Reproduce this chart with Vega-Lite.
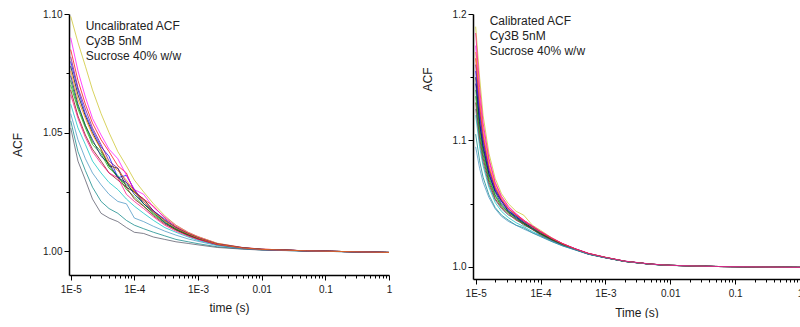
{
  "$schema": "https://vega.github.io/schema/vega-lite/v6.json",
  "background": "white",
  "padding": {"left": 11, "top": 9, "right": 0, "bottom": 0},
  "bounds": "flush",
  "spacing": 84,
  "config": {
    "view": {"stroke": null},
    "font": "Liberation Sans",
    "axis": {"grid": false, "labelFont": "Liberation Sans", "titleFont": "Liberation Sans", "labelColor": "#1a1a1a", "titleColor": "#1a1a1a", "domainColor": "#000000", "tickColor": "#000000", "titleFontWeight": "normal", "labelFlush": false, "labelOverlap": false, "domain": true, "ticks": true}
  },
  "datasets": {
    "L": [
      {"s":"a","t":1e-5,"v":1.078},{"s":"a","t":1.3e-5,"v":1.066},{"s":"a","t":1.7e-5,"v":1.057},{"s":"a","t":2.2e-5,"v":1.050},{"s":"a","t":3e-5,"v":1.043},{"s":"a","t":4e-5,"v":1.036},{"s":"a","t":5.5e-5,"v":1.035},{"s":"a","t":7.5e-5,"v":1.027},{"s":"a","t":1e-4,"v":1.025},{"s":"a","t":1.4e-4,"v":1.022},{"s":"a","t":2e-4,"v":1.017},{"s":"a","t":3e-4,"v":1.013},{"s":"a","t":4.5e-4,"v":1.010},{"s":"a","t":7e-4,"v":1.0075},{"s":"a","t":1e-3,"v":1.0058},{"s":"a","t":2e-3,"v":1.0031},{"s":"a","t":5e-3,"v":1.0015},{"s":"a","t":0.01,"v":1.0008},{"s":"a","t":0.05,"v":1.0002},{"s":"a","t":1,"v":0.9995},
      {"s":"b","t":1e-5,"v":1.085},{"s":"b","t":1.3e-5,"v":1.072},{"s":"b","t":1.7e-5,"v":1.062},{"s":"b","t":2.2e-5,"v":1.054},{"s":"b","t":3e-5,"v":1.047},{"s":"b","t":4e-5,"v":1.042},{"s":"b","t":5.5e-5,"v":1.036},{"s":"b","t":7.5e-5,"v":1.033},{"s":"b","t":1e-4,"v":1.025},{"s":"b","t":1.4e-4,"v":1.022},{"s":"b","t":2e-4,"v":1.019},{"s":"b","t":3e-4,"v":1.014},{"s":"b","t":4.5e-4,"v":1.0105},{"s":"b","t":7e-4,"v":1.0078},{"s":"b","t":1e-3,"v":1.006},{"s":"b","t":2e-3,"v":1.0033},{"s":"b","t":5e-3,"v":1.0015},{"s":"b","t":0.01,"v":1.0009},{"s":"b","t":0.05,"v":1.0002},{"s":"b","t":1,"v":0.9995},
      {"s":"c","t":1e-5,"v":1.070},{"s":"c","t":1.3e-5,"v":1.060},{"s":"c","t":1.7e-5,"v":1.052},{"s":"c","t":2.2e-5,"v":1.045},{"s":"c","t":3e-5,"v":1.041},{"s":"c","t":4e-5,"v":1.035},{"s":"c","t":5.5e-5,"v":1.032},{"s":"c","t":7.5e-5,"v":1.026},{"s":"c","t":1e-4,"v":1.023},{"s":"c","t":1.4e-4,"v":1.019},{"s":"c","t":2e-4,"v":1.0155},{"s":"c","t":3e-4,"v":1.012},{"s":"c","t":4.5e-4,"v":1.009},{"s":"c","t":7e-4,"v":1.0068},{"s":"c","t":1e-3,"v":1.0052},{"s":"c","t":2e-3,"v":1.0029},{"s":"c","t":5e-3,"v":1.0013},{"s":"c","t":0.01,"v":1.0007},{"s":"c","t":0.05,"v":1.0002},{"s":"c","t":1,"v":0.9995},
      {"s":"d","t":1e-5,"v":1.080},{"s":"d","t":1.3e-5,"v":1.068},{"s":"d","t":1.7e-5,"v":1.058},{"s":"d","t":2.2e-5,"v":1.051},{"s":"d","t":3e-5,"v":1.044},{"s":"d","t":4e-5,"v":1.040},{"s":"d","t":5.5e-5,"v":1.031},{"s":"d","t":7.5e-5,"v":1.032},{"s":"d","t":1e-4,"v":1.026},{"s":"d","t":1.4e-4,"v":1.020},{"s":"d","t":2e-4,"v":1.017},{"s":"d","t":3e-4,"v":1.0135},{"s":"d","t":4.5e-4,"v":1.010},{"s":"d","t":7e-4,"v":1.0072},{"s":"d","t":1e-3,"v":1.0056},{"s":"d","t":2e-3,"v":1.003},{"s":"d","t":5e-3,"v":1.0014},{"s":"d","t":0.01,"v":1.0008},{"s":"d","t":0.05,"v":1.0002},{"s":"d","t":1,"v":0.9995},
      {"s":"e","t":1e-5,"v":1.062},{"s":"e","t":1.3e-5,"v":1.052},{"s":"e","t":1.7e-5,"v":1.045},{"s":"e","t":2.2e-5,"v":1.038},{"s":"e","t":3e-5,"v":1.033},{"s":"e","t":4e-5,"v":1.029},{"s":"e","t":5.5e-5,"v":1.026},{"s":"e","t":7.5e-5,"v":1.022},{"s":"e","t":1e-4,"v":1.019},{"s":"e","t":1.4e-4,"v":1.016},{"s":"e","t":2e-4,"v":1.013},{"s":"e","t":3e-4,"v":1.010},{"s":"e","t":4.5e-4,"v":1.008},{"s":"e","t":7e-4,"v":1.006},{"s":"e","t":1e-3,"v":1.0046},{"s":"e","t":2e-3,"v":1.0026},{"s":"e","t":5e-3,"v":1.0012},{"s":"e","t":0.01,"v":1.0007},{"s":"e","t":0.05,"v":1.0002},{"s":"e","t":1,"v":0.9995},
      {"s":"f","t":1e-5,"v":1.090},{"s":"f","t":1.3e-5,"v":1.076},{"s":"f","t":1.7e-5,"v":1.065},{"s":"f","t":2.2e-5,"v":1.056},{"s":"f","t":3e-5,"v":1.049},{"s":"f","t":4e-5,"v":1.043},{"s":"f","t":5.5e-5,"v":1.039},{"s":"f","t":7.5e-5,"v":1.032},{"s":"f","t":1e-4,"v":1.026},{"s":"f","t":1.4e-4,"v":1.024},{"s":"f","t":2e-4,"v":1.0185},{"s":"f","t":3e-4,"v":1.0145},{"s":"f","t":4.5e-4,"v":1.011},{"s":"f","t":7e-4,"v":1.008},{"s":"f","t":1e-3,"v":1.0062},{"s":"f","t":2e-3,"v":1.0033},{"s":"f","t":5e-3,"v":1.0016},{"s":"f","t":0.01,"v":1.0009},{"s":"f","t":0.05,"v":1.0002},{"s":"f","t":1,"v":0.9995},
      {"s":"g","t":1e-5,"v":1.099},{"s":"g","t":1.3e-5,"v":1.088},{"s":"g","t":1.7e-5,"v":1.078},{"s":"g","t":2.2e-5,"v":1.068},{"s":"g","t":3e-5,"v":1.058},{"s":"g","t":4e-5,"v":1.050},{"s":"g","t":5.5e-5,"v":1.042},{"s":"g","t":7.5e-5,"v":1.036},{"s":"g","t":1e-4,"v":1.030},{"s":"g","t":1.4e-4,"v":1.025},{"s":"g","t":2e-4,"v":1.020},{"s":"g","t":3e-4,"v":1.015},{"s":"g","t":4.5e-4,"v":1.011},{"s":"g","t":7e-4,"v":1.008},{"s":"g","t":1e-3,"v":1.0062},{"s":"g","t":2e-3,"v":1.0034},{"s":"g","t":5e-3,"v":1.0016},{"s":"g","t":0.01,"v":1.0009},{"s":"g","t":0.05,"v":1.0002},{"s":"g","t":1,"v":0.9995},
      {"s":"h","t":1e-5,"v":1.074},{"s":"h","t":1.3e-5,"v":1.062},{"s":"h","t":1.7e-5,"v":1.053},{"s":"h","t":2.2e-5,"v":1.047},{"s":"h","t":3e-5,"v":1.040},{"s":"h","t":4e-5,"v":1.037},{"s":"h","t":5.5e-5,"v":1.031},{"s":"h","t":7.5e-5,"v":1.029},{"s":"h","t":1e-4,"v":1.024},{"s":"h","t":1.4e-4,"v":1.020},{"s":"h","t":2e-4,"v":1.0165},{"s":"h","t":3e-4,"v":1.012},{"s":"h","t":4.5e-4,"v":1.0095},{"s":"h","t":7e-4,"v":1.007},{"s":"h","t":1e-3,"v":1.0054},{"s":"h","t":2e-3,"v":1.003},{"s":"h","t":5e-3,"v":1.0014},{"s":"h","t":0.01,"v":1.0008},{"s":"h","t":0.05,"v":1.0002},{"s":"h","t":1,"v":0.9995},
      {"s":"i","t":1e-5,"v":1.068},{"s":"i","t":1.3e-5,"v":1.057},{"s":"i","t":1.7e-5,"v":1.049},{"s":"i","t":2.2e-5,"v":1.043},{"s":"i","t":3e-5,"v":1.038},{"s":"i","t":4e-5,"v":1.033},{"s":"i","t":5.5e-5,"v":1.030},{"s":"i","t":7.5e-5,"v":1.027},{"s":"i","t":1e-4,"v":1.022},{"s":"i","t":1.4e-4,"v":1.019},{"s":"i","t":2e-4,"v":1.015},{"s":"i","t":3e-4,"v":1.0115},{"s":"i","t":4.5e-4,"v":1.009},{"s":"i","t":7e-4,"v":1.0066},{"s":"i","t":1e-3,"v":1.0051},{"s":"i","t":2e-3,"v":1.0028},{"s":"i","t":5e-3,"v":1.0013},{"s":"i","t":0.01,"v":1.0007},{"s":"i","t":0.05,"v":1.0002},{"s":"i","t":1,"v":0.9995},
      {"s":"j","t":1e-5,"v":1.072},{"s":"j","t":1.3e-5,"v":1.061},{"s":"j","t":1.7e-5,"v":1.053},{"s":"j","t":2.2e-5,"v":1.046},{"s":"j","t":3e-5,"v":1.042},{"s":"j","t":4e-5,"v":1.036},{"s":"j","t":5.5e-5,"v":1.031},{"s":"j","t":7.5e-5,"v":1.028},{"s":"j","t":1e-4,"v":1.025},{"s":"j","t":1.4e-4,"v":1.020},{"s":"j","t":2e-4,"v":1.016},{"s":"j","t":3e-4,"v":1.0125},{"s":"j","t":4.5e-4,"v":1.0093},{"s":"j","t":7e-4,"v":1.007},{"s":"j","t":1e-3,"v":1.0053},{"s":"j","t":2e-3,"v":1.0029},{"s":"j","t":5e-3,"v":1.0014},{"s":"j","t":0.01,"v":1.0008},{"s":"j","t":0.05,"v":1.0002},{"s":"j","t":1,"v":0.9995},
      {"s":"k","t":1e-5,"v":1.055},{"s":"k","t":1.3e-5,"v":1.042},{"s":"k","t":1.7e-5,"v":1.034},{"s":"k","t":2.2e-5,"v":1.027},{"s":"k","t":3e-5,"v":1.021},{"s":"k","t":4e-5,"v":1.018},{"s":"k","t":5.5e-5,"v":1.016},{"s":"k","t":7.5e-5,"v":1.013},{"s":"k","t":1e-4,"v":1.011},{"s":"k","t":1.4e-4,"v":1.0095},{"s":"k","t":2e-4,"v":1.008},{"s":"k","t":3e-4,"v":1.0065},{"s":"k","t":4.5e-4,"v":1.005},{"s":"k","t":7e-4,"v":1.004},{"s":"k","t":1e-3,"v":1.0032},{"s":"k","t":2e-3,"v":1.0019},{"s":"k","t":5e-3,"v":1.001},{"s":"k","t":0.01,"v":1.0006},{"s":"k","t":0.05,"v":1.0001},{"s":"k","t":1,"v":0.9995},
      {"s":"l","t":1e-5,"v":1.052},{"s":"l","t":1.3e-5,"v":1.038},{"s":"l","t":1.7e-5,"v":1.030},{"s":"l","t":2.2e-5,"v":1.022},{"s":"l","t":3e-5,"v":1.016},{"s":"l","t":4e-5,"v":1.014},{"s":"l","t":5.5e-5,"v":1.0125},{"s":"l","t":7.5e-5,"v":1.010},{"s":"l","t":1e-4,"v":1.008},{"s":"l","t":1.4e-4,"v":1.0075},{"s":"l","t":2e-4,"v":1.006},{"s":"l","t":3e-4,"v":1.005},{"s":"l","t":4.5e-4,"v":1.004},{"s":"l","t":7e-4,"v":1.0033},{"s":"l","t":1e-3,"v":1.0027},{"s":"l","t":2e-3,"v":1.0016},{"s":"l","t":5e-3,"v":1.0009},{"s":"l","t":0.01,"v":1.0005},{"s":"l","t":0.05,"v":1.0001},{"s":"l","t":1,"v":0.9995},
      {"s":"m","t":1e-5,"v":1.066},{"s":"m","t":1.3e-5,"v":1.056},{"s":"m","t":1.7e-5,"v":1.048},{"s":"m","t":2.2e-5,"v":1.042},{"s":"m","t":3e-5,"v":1.037},{"s":"m","t":4e-5,"v":1.033},{"s":"m","t":5.5e-5,"v":1.031},{"s":"m","t":7.5e-5,"v":1.024},{"s":"m","t":1e-4,"v":1.021},{"s":"m","t":1.4e-4,"v":1.018},{"s":"m","t":2e-4,"v":1.0145},{"s":"m","t":3e-4,"v":1.011},{"s":"m","t":4.5e-4,"v":1.0085},{"s":"m","t":7e-4,"v":1.0064},{"s":"m","t":1e-3,"v":1.005},{"s":"m","t":2e-3,"v":1.0028},{"s":"m","t":5e-3,"v":1.0013},{"s":"m","t":0.01,"v":1.0007},{"s":"m","t":0.05,"v":1.0002},{"s":"m","t":1,"v":0.9995},
      {"s":"n","t":1e-5,"v":1.058},{"s":"n","t":1.3e-5,"v":1.047},{"s":"n","t":1.7e-5,"v":1.039},{"s":"n","t":2.2e-5,"v":1.033},{"s":"n","t":3e-5,"v":1.028},{"s":"n","t":4e-5,"v":1.024},{"s":"n","t":5.5e-5,"v":1.021},{"s":"n","t":7.5e-5,"v":1.020},{"s":"n","t":1e-4,"v":1.014},{"s":"n","t":1.4e-4,"v":1.0125},{"s":"n","t":2e-4,"v":1.0105},{"s":"n","t":3e-4,"v":1.0085},{"s":"n","t":4.5e-4,"v":1.0068},{"s":"n","t":7e-4,"v":1.0052},{"s":"n","t":1e-3,"v":1.0042},{"s":"n","t":2e-3,"v":1.0024},{"s":"n","t":5e-3,"v":1.0011},{"s":"n","t":0.01,"v":1.0006},{"s":"n","t":0.05,"v":1.0001},{"s":"n","t":1,"v":0.9995},
      {"s":"o","t":1e-5,"v":1.082},{"s":"o","t":1.3e-5,"v":1.069},{"s":"o","t":1.7e-5,"v":1.060},{"s":"o","t":2.2e-5,"v":1.052},{"s":"o","t":3e-5,"v":1.045},{"s":"o","t":4e-5,"v":1.038},{"s":"o","t":5.5e-5,"v":1.035},{"s":"o","t":7.5e-5,"v":1.029},{"s":"o","t":1e-4,"v":1.026},{"s":"o","t":1.4e-4,"v":1.021},{"s":"o","t":2e-4,"v":1.017},{"s":"o","t":3e-4,"v":1.013},{"s":"o","t":4.5e-4,"v":1.010},{"s":"o","t":7e-4,"v":1.0074},{"s":"o","t":1e-3,"v":1.0057},{"s":"o","t":2e-3,"v":1.0031},{"s":"o","t":5e-3,"v":1.0015},{"s":"o","t":0.01,"v":1.0008},{"s":"o","t":0.05,"v":1.0002},{"s":"o","t":1,"v":0.9995},
      {"s":"p","t":1e-5,"v":1.076},{"s":"p","t":1.3e-5,"v":1.064},{"s":"p","t":1.7e-5,"v":1.056},{"s":"p","t":2.2e-5,"v":1.049},{"s":"p","t":3e-5,"v":1.043},{"s":"p","t":4e-5,"v":1.037},{"s":"p","t":5.5e-5,"v":1.034},{"s":"p","t":7.5e-5,"v":1.030},{"s":"p","t":1e-4,"v":1.025},{"s":"p","t":1.4e-4,"v":1.021},{"s":"p","t":2e-4,"v":1.0165},{"s":"p","t":3e-4,"v":1.013},{"s":"p","t":4.5e-4,"v":1.0098},{"s":"p","t":7e-4,"v":1.0073},{"s":"p","t":1e-3,"v":1.0056},{"s":"p","t":2e-3,"v":1.003},{"s":"p","t":5e-3,"v":1.0014},{"s":"p","t":0.01,"v":1.0008},{"s":"p","t":0.05,"v":1.0002},{"s":"p","t":1,"v":0.9995}
    ],
    "R": [
      {"s":"a","t":1e-5,"v":1.150},{"s":"a","t":1.15e-5,"v":1.115},{"s":"a","t":1.3e-5,"v":1.096},{"s":"a","t":1.6e-5,"v":1.074},{"s":"a","t":2e-5,"v":1.060},{"s":"a","t":2.5e-5,"v":1.052},{"s":"a","t":3.2e-5,"v":1.044},{"s":"a","t":4.2e-5,"v":1.040},{"s":"a","t":5.5e-5,"v":1.035},{"s":"a","t":7.5e-5,"v":1.031},{"s":"a","t":1e-4,"v":1.027},{"s":"a","t":1.5e-4,"v":1.022},{"s":"a","t":2.2e-4,"v":1.018},{"s":"a","t":3.5e-4,"v":1.014},{"s":"a","t":5.5e-4,"v":1.0105},{"s":"a","t":1e-3,"v":1.0075},{"s":"a","t":2e-3,"v":1.0045},{"s":"a","t":5e-3,"v":1.0022},{"s":"a","t":0.01,"v":1.0013},{"s":"a","t":0.05,"v":1.0004},{"s":"a","t":1,"v":0.9997},
      {"s":"b","t":1e-5,"v":1.165},{"s":"b","t":1.15e-5,"v":1.128},{"s":"b","t":1.3e-5,"v":1.104},{"s":"b","t":1.6e-5,"v":1.079},{"s":"b","t":2e-5,"v":1.063},{"s":"b","t":2.5e-5,"v":1.053},{"s":"b","t":3.2e-5,"v":1.046},{"s":"b","t":4.2e-5,"v":1.041},{"s":"b","t":5.5e-5,"v":1.037},{"s":"b","t":7.5e-5,"v":1.032},{"s":"b","t":1e-4,"v":1.028},{"s":"b","t":1.5e-4,"v":1.0225},{"s":"b","t":2.2e-4,"v":1.0185},{"s":"b","t":3.5e-4,"v":1.014},{"s":"b","t":5.5e-4,"v":1.0107},{"s":"b","t":1e-3,"v":1.0076},{"s":"b","t":2e-3,"v":1.0045},{"s":"b","t":5e-3,"v":1.0022},{"s":"b","t":0.01,"v":1.0013},{"s":"b","t":0.05,"v":1.0004},{"s":"b","t":1,"v":0.9997},
      {"s":"c","t":1e-5,"v":1.140},{"s":"c","t":1.15e-5,"v":1.110},{"s":"c","t":1.3e-5,"v":1.092},{"s":"c","t":1.6e-5,"v":1.071},{"s":"c","t":2e-5,"v":1.057},{"s":"c","t":2.5e-5,"v":1.049},{"s":"c","t":3.2e-5,"v":1.043},{"s":"c","t":4.2e-5,"v":1.039},{"s":"c","t":5.5e-5,"v":1.034},{"s":"c","t":7.5e-5,"v":1.030},{"s":"c","t":1e-4,"v":1.026},{"s":"c","t":1.5e-4,"v":1.0215},{"s":"c","t":2.2e-4,"v":1.0175},{"s":"c","t":3.5e-4,"v":1.0138},{"s":"c","t":5.5e-4,"v":1.0103},{"s":"c","t":1e-3,"v":1.0074},{"s":"c","t":2e-3,"v":1.0044},{"s":"c","t":5e-3,"v":1.0022},{"s":"c","t":0.01,"v":1.0013},{"s":"c","t":0.05,"v":1.0004},{"s":"c","t":1,"v":0.9997},
      {"s":"d","t":1e-5,"v":1.155},{"s":"d","t":1.15e-5,"v":1.120},{"s":"d","t":1.3e-5,"v":1.099},{"s":"d","t":1.6e-5,"v":1.076},{"s":"d","t":2e-5,"v":1.061},{"s":"d","t":2.5e-5,"v":1.052},{"s":"d","t":3.2e-5,"v":1.045},{"s":"d","t":4.2e-5,"v":1.040},{"s":"d","t":5.5e-5,"v":1.036},{"s":"d","t":7.5e-5,"v":1.0315},{"s":"d","t":1e-4,"v":1.0275},{"s":"d","t":1.5e-4,"v":1.022},{"s":"d","t":2.2e-4,"v":1.018},{"s":"d","t":3.5e-4,"v":1.0142},{"s":"d","t":5.5e-4,"v":1.0105},{"s":"d","t":1e-3,"v":1.0075},{"s":"d","t":2e-3,"v":1.0045},{"s":"d","t":5e-3,"v":1.0022},{"s":"d","t":0.01,"v":1.0013},{"s":"d","t":0.05,"v":1.0004},{"s":"d","t":1,"v":0.9997},
      {"s":"e","t":1e-5,"v":1.120},{"s":"e","t":1.15e-5,"v":1.095},{"s":"e","t":1.3e-5,"v":1.080},{"s":"e","t":1.6e-5,"v":1.063},{"s":"e","t":2e-5,"v":1.051},{"s":"e","t":2.5e-5,"v":1.044},{"s":"e","t":3.2e-5,"v":1.039},{"s":"e","t":4.2e-5,"v":1.035},{"s":"e","t":5.5e-5,"v":1.032},{"s":"e","t":7.5e-5,"v":1.028},{"s":"e","t":1e-4,"v":1.025},{"s":"e","t":1.5e-4,"v":1.0205},{"s":"e","t":2.2e-4,"v":1.017},{"s":"e","t":3.5e-4,"v":1.0135},{"s":"e","t":5.5e-4,"v":1.0102},{"s":"e","t":1e-3,"v":1.0073},{"s":"e","t":2e-3,"v":1.0044},{"s":"e","t":5e-3,"v":1.0021},{"s":"e","t":0.01,"v":1.0013},{"s":"e","t":0.05,"v":1.0004},{"s":"e","t":1,"v":0.9997},
      {"s":"f","t":1e-5,"v":1.175},{"s":"f","t":1.15e-5,"v":1.135},{"s":"f","t":1.3e-5,"v":1.110},{"s":"f","t":1.6e-5,"v":1.084},{"s":"f","t":2e-5,"v":1.066},{"s":"f","t":2.5e-5,"v":1.055},{"s":"f","t":3.2e-5,"v":1.047},{"s":"f","t":4.2e-5,"v":1.042},{"s":"f","t":5.5e-5,"v":1.037},{"s":"f","t":7.5e-5,"v":1.032},{"s":"f","t":1e-4,"v":1.028},{"s":"f","t":1.5e-4,"v":1.023},{"s":"f","t":2.2e-4,"v":1.0185},{"s":"f","t":3.5e-4,"v":1.0143},{"s":"f","t":5.5e-4,"v":1.0108},{"s":"f","t":1e-3,"v":1.0077},{"s":"f","t":2e-3,"v":1.0046},{"s":"f","t":5e-3,"v":1.0023},{"s":"f","t":0.01,"v":1.0013},{"s":"f","t":0.05,"v":1.0004},{"s":"f","t":1,"v":0.9997},
      {"s":"g","t":1e-5,"v":1.190},{"s":"g","t":1.15e-5,"v":1.150},{"s":"g","t":1.3e-5,"v":1.120},{"s":"g","t":1.6e-5,"v":1.090},{"s":"g","t":2e-5,"v":1.070},{"s":"g","t":2.5e-5,"v":1.058},{"s":"g","t":3.2e-5,"v":1.050},{"s":"g","t":4.2e-5,"v":1.044},{"s":"g","t":5.5e-5,"v":1.041},{"s":"g","t":7.5e-5,"v":1.033},{"s":"g","t":1e-4,"v":1.029},{"s":"g","t":1.5e-4,"v":1.023},{"s":"g","t":2.2e-4,"v":1.0183},{"s":"g","t":3.5e-4,"v":1.014},{"s":"g","t":5.5e-4,"v":1.0106},{"s":"g","t":1e-3,"v":1.0076},{"s":"g","t":2e-3,"v":1.0045},{"s":"g","t":5e-3,"v":1.0022},{"s":"g","t":0.01,"v":1.0013},{"s":"g","t":0.05,"v":1.0004},{"s":"g","t":1,"v":0.9997},
      {"s":"h","t":1e-5,"v":1.145},{"s":"h","t":1.15e-5,"v":1.113},{"s":"h","t":1.3e-5,"v":1.094},{"s":"h","t":1.6e-5,"v":1.073},{"s":"h","t":2e-5,"v":1.059},{"s":"h","t":2.5e-5,"v":1.050},{"s":"h","t":3.2e-5,"v":1.044},{"s":"h","t":4.2e-5,"v":1.039},{"s":"h","t":5.5e-5,"v":1.035},{"s":"h","t":7.5e-5,"v":1.0305},{"s":"h","t":1e-4,"v":1.0265},{"s":"h","t":1.5e-4,"v":1.0218},{"s":"h","t":2.2e-4,"v":1.0178},{"s":"h","t":3.5e-4,"v":1.0139},{"s":"h","t":5.5e-4,"v":1.0104},{"s":"h","t":1e-3,"v":1.0074},{"s":"h","t":2e-3,"v":1.0044},{"s":"h","t":5e-3,"v":1.0022},{"s":"h","t":0.01,"v":1.0013},{"s":"h","t":0.05,"v":1.0004},{"s":"h","t":1,"v":0.9997},
      {"s":"o","t":1e-5,"v":1.160},{"s":"o","t":1.15e-5,"v":1.124},{"s":"o","t":1.3e-5,"v":1.101},{"s":"o","t":1.6e-5,"v":1.077},{"s":"o","t":2e-5,"v":1.062},{"s":"o","t":2.5e-5,"v":1.053},{"s":"o","t":3.2e-5,"v":1.046},{"s":"o","t":4.2e-5,"v":1.041},{"s":"o","t":5.5e-5,"v":1.036},{"s":"o","t":7.5e-5,"v":1.032},{"s":"o","t":1e-4,"v":1.0275},{"s":"o","t":1.5e-4,"v":1.0223},{"s":"o","t":2.2e-4,"v":1.0182},{"s":"o","t":3.5e-4,"v":1.0141},{"s":"o","t":5.5e-4,"v":1.0106},{"s":"o","t":1e-3,"v":1.0075},{"s":"o","t":2e-3,"v":1.0045},{"s":"o","t":5e-3,"v":1.0022},{"s":"o","t":0.01,"v":1.0013},{"s":"o","t":0.05,"v":1.0004},{"s":"o","t":1,"v":0.9997},
      {"s":"i","t":1e-5,"v":1.130},{"s":"i","t":1.15e-5,"v":1.102},{"s":"i","t":1.3e-5,"v":1.086},{"s":"i","t":1.6e-5,"v":1.067},{"s":"i","t":2e-5,"v":1.054},{"s":"i","t":2.5e-5,"v":1.047},{"s":"i","t":3.2e-5,"v":1.042},{"s":"i","t":4.2e-5,"v":1.037},{"s":"i","t":5.5e-5,"v":1.034},{"s":"i","t":7.5e-5,"v":1.0295},{"s":"i","t":1e-4,"v":1.026},{"s":"i","t":1.5e-4,"v":1.0212},{"s":"i","t":2.2e-4,"v":1.0174},{"s":"i","t":3.5e-4,"v":1.0137},{"s":"i","t":5.5e-4,"v":1.0102},{"s":"i","t":1e-3,"v":1.0074},{"s":"i","t":2e-3,"v":1.0044},{"s":"i","t":5e-3,"v":1.0022},{"s":"i","t":0.01,"v":1.0013},{"s":"i","t":0.05,"v":1.0004},{"s":"i","t":1,"v":0.9997},
      {"s":"j","t":1e-5,"v":1.135},{"s":"j","t":1.15e-5,"v":1.106},{"s":"j","t":1.3e-5,"v":1.089},{"s":"j","t":1.6e-5,"v":1.069},{"s":"j","t":2e-5,"v":1.056},{"s":"j","t":2.5e-5,"v":1.048},{"s":"j","t":3.2e-5,"v":1.043},{"s":"j","t":4.2e-5,"v":1.038},{"s":"j","t":5.5e-5,"v":1.0345},{"s":"j","t":7.5e-5,"v":1.030},{"s":"j","t":1e-4,"v":1.0262},{"s":"j","t":1.5e-4,"v":1.0216},{"s":"j","t":2.2e-4,"v":1.0176},{"s":"j","t":3.5e-4,"v":1.0138},{"s":"j","t":5.5e-4,"v":1.0103},{"s":"j","t":1e-3,"v":1.0074},{"s":"j","t":2e-3,"v":1.0044},{"s":"j","t":5e-3,"v":1.0022},{"s":"j","t":0.01,"v":1.0013},{"s":"j","t":0.05,"v":1.0004},{"s":"j","t":1,"v":0.9997},
      {"s":"k","t":1e-5,"v":1.105},{"s":"k","t":1.15e-5,"v":1.084},{"s":"k","t":1.3e-5,"v":1.071},{"s":"k","t":1.6e-5,"v":1.057},{"s":"k","t":2e-5,"v":1.047},{"s":"k","t":2.5e-5,"v":1.041},{"s":"k","t":3.2e-5,"v":1.037},{"s":"k","t":4.2e-5,"v":1.033},{"s":"k","t":5.5e-5,"v":1.031},{"s":"k","t":7.5e-5,"v":1.027},{"s":"k","t":1e-4,"v":1.024},{"s":"k","t":1.5e-4,"v":1.020},{"s":"k","t":2.2e-4,"v":1.0166},{"s":"k","t":3.5e-4,"v":1.0133},{"s":"k","t":5.5e-4,"v":1.010},{"s":"k","t":1e-3,"v":1.0072},{"s":"k","t":2e-3,"v":1.0043},{"s":"k","t":5e-3,"v":1.0021},{"s":"k","t":0.01,"v":1.0012},{"s":"k","t":0.05,"v":1.0004},{"s":"k","t":1,"v":0.9997},
      {"s":"l","t":1e-5,"v":1.125},{"s":"l","t":1.15e-5,"v":1.099},{"s":"l","t":1.3e-5,"v":1.083},{"s":"l","t":1.6e-5,"v":1.065},{"s":"l","t":2e-5,"v":1.053},{"s":"l","t":2.5e-5,"v":1.046},{"s":"l","t":3.2e-5,"v":1.041},{"s":"l","t":4.2e-5,"v":1.038},{"s":"l","t":5.5e-5,"v":1.033},{"s":"l","t":7.5e-5,"v":1.030},{"s":"l","t":1e-4,"v":1.025},{"s":"l","t":1.5e-4,"v":1.021},{"s":"l","t":2.2e-4,"v":1.0173},{"s":"l","t":3.5e-4,"v":1.0136},{"s":"l","t":5.5e-4,"v":1.0102},{"s":"l","t":1e-3,"v":1.0073},{"s":"l","t":2e-3,"v":1.0044},{"s":"l","t":5e-3,"v":1.0022},{"s":"l","t":0.01,"v":1.0013},{"s":"l","t":0.05,"v":1.0004},{"s":"l","t":1,"v":0.9997},
      {"s":"p","t":1e-5,"v":1.170},{"s":"p","t":1.15e-5,"v":1.131},{"s":"p","t":1.3e-5,"v":1.106},{"s":"p","t":1.6e-5,"v":1.081},{"s":"p","t":2e-5,"v":1.064},{"s":"p","t":2.5e-5,"v":1.054},{"s":"p","t":3.2e-5,"v":1.046},{"s":"p","t":4.2e-5,"v":1.041},{"s":"p","t":5.5e-5,"v":1.0365},{"s":"p","t":7.5e-5,"v":1.0315},{"s":"p","t":1e-4,"v":1.0275},{"s":"p","t":1.5e-4,"v":1.0224},{"s":"p","t":2.2e-4,"v":1.0183},{"s":"p","t":3.5e-4,"v":1.0141},{"s":"p","t":5.5e-4,"v":1.0106},{"s":"p","t":1e-3,"v":1.0076},{"s":"p","t":2e-3,"v":1.0045},{"s":"p","t":5e-3,"v":1.0022},{"s":"p","t":0.01,"v":1.0013},{"s":"p","t":0.05,"v":1.0004},{"s":"p","t":1,"v":0.9997},
      {"s":"n","t":1e-5,"v":1.095},{"s":"n","t":1.15e-5,"v":1.078},{"s":"n","t":1.3e-5,"v":1.067},{"s":"n","t":1.6e-5,"v":1.055},{"s":"n","t":2e-5,"v":1.046},{"s":"n","t":2.5e-5,"v":1.040},{"s":"n","t":3.2e-5,"v":1.036},{"s":"n","t":4.2e-5,"v":1.033},{"s":"n","t":5.5e-5,"v":1.030},{"s":"n","t":7.5e-5,"v":1.027},{"s":"n","t":1e-4,"v":1.0245},{"s":"n","t":1.5e-4,"v":1.0203},{"s":"n","t":2.2e-4,"v":1.0168},{"s":"n","t":3.5e-4,"v":1.0134},{"s":"n","t":5.5e-4,"v":1.0101},{"s":"n","t":1e-3,"v":1.0073},{"s":"n","t":2e-3,"v":1.0044},{"s":"n","t":5e-3,"v":1.0021},{"s":"n","t":0.01,"v":1.0013},{"s":"n","t":0.05,"v":1.0004},{"s":"n","t":1,"v":0.9997},
      {"s":"m","t":1e-5,"v":1.185},{"s":"m","t":1.15e-5,"v":1.142},{"s":"m","t":1.3e-5,"v":1.114},{"s":"m","t":1.6e-5,"v":1.086},{"s":"m","t":2e-5,"v":1.067},{"s":"m","t":2.5e-5,"v":1.056},{"s":"m","t":3.2e-5,"v":1.048},{"s":"m","t":4.2e-5,"v":1.042},{"s":"m","t":5.5e-5,"v":1.037},{"s":"m","t":7.5e-5,"v":1.0325},{"s":"m","t":1e-4,"v":1.0282},{"s":"m","t":1.5e-4,"v":1.0228},{"s":"m","t":2.2e-4,"v":1.0184},{"s":"m","t":3.5e-4,"v":1.0142},{"s":"m","t":5.5e-4,"v":1.0107},{"s":"m","t":1e-3,"v":1.0076},{"s":"m","t":2e-3,"v":1.0046},{"s":"m","t":5e-3,"v":1.0023},{"s":"m","t":0.01,"v":1.0013},{"s":"m","t":0.05,"v":1.0004},{"s":"m","t":1,"v":0.9997}
    ]
  },
  "hconcat": [
    {
      "width": 320,
      "height": 261,
      "layer": [
        {
          "data": {"name": "L"},
          "mark": {"type": "line", "strokeWidth": 0.85, "opacity": 0.85, "clip": true},
          "encoding": {
            "x": {"field": "t", "type": "quantitative", "scale": {"type": "log", "domain": [9.4e-6, 1], "nice": false},
              "axis": {"orient": "bottom", "values": [1e-5,2e-5,3e-5,4e-5,5e-5,6e-5,7e-5,8e-5,9e-5,1e-4,2e-4,3e-4,4e-4,5e-4,6e-4,7e-4,8e-4,9e-4,1e-3,2e-3,3e-3,4e-3,5e-3,6e-3,7e-3,8e-3,9e-3,0.01,0.02,0.03,0.04,0.05,0.06,0.07,0.08,0.09,0.1,0.2,0.3,0.4,0.5,0.6,0.7,0.8,0.9,1],
                "labelExpr": "abs(log(datum.value)/LN10 - round(log(datum.value)/LN10)) > 0.001 ? '' : (datum.value < 0.005 ? '1E' + round(log(datum.value) / LN10) : datum.value + '')",
                "tickSize": {"condition": {"test": "abs(log(datum.value)/LN10 - round(log(datum.value)/LN10)) < 0.001", "value": 5}, "value": 3},
                "tickWidth": 1, "domainWidth": 1.5, "labelFontSize": 10, "labelPadding": 4, "title": "time (s)", "titleFontSize": 12, "titlePadding": 8}},
            "y": {"field": "v", "type": "quantitative", "scale": {"domain": [0.99, 1.1], "nice": false, "zero": false},
              "axis": {"orient": "left", "values": [1.0, 1.025, 1.05, 1.075, 1.1],
                "labelExpr": "abs(datum.value*20 - round(datum.value*20)) > 0.001 ? '' : format(datum.value, '.2f')",
                "tickSize": {"condition": {"test": "abs(datum.value*20 - round(datum.value*20)) < 0.001", "value": 5}, "value": 3},
                "tickWidth": 1, "domainWidth": 1.5, "labelFontSize": 10, "labelPadding": 2, "title": "ACF", "titleFontSize": 12, "titlePadding": 18}},
            "color": {"field": "s", "type": "nominal", "legend": null,
              "scale": {"domain": ["a","b","c","d","e","f","g","h","i","j","k","l","m","n","o","p"], "range": ["#000000","#ff0000","#00b000","#0000ff","#00c0c0","#ff00ff","#c8c020","#000080","#800000","#008000","#008080","#505060","#ff0080","#4090c0","#800080","#ff8000"]}}
          }
        },
        {
          "data": {"values": [{"t": 1.72e-5, "v": 1.0948, "label": "Uncalibrated ACF\nCy3B 5nM\nSucrose 40% w/w"}]},
          "mark": {"type": "text", "align": "left", "baseline": "middle", "fontSize": 12, "lineHeight": 15, "lineBreak": "\n", "color": "#222222", "font": "Liberation Sans"},
          "encoding": {
            "x": {"field": "t", "type": "quantitative"},
            "y": {"field": "v", "type": "quantitative"},
            "text": {"field": "label"}
          }
        }
      ]
    },
    {
      "width": 327,
      "height": 265,
      "layer": [
        {
          "data": {"name": "R"},
          "mark": {"type": "line", "strokeWidth": 0.85, "opacity": 0.85, "clip": true},
          "encoding": {
            "x": {"field": "t", "type": "quantitative", "scale": {"type": "log", "domain": [9.1e-6, 1], "nice": false},
              "axis": {"orient": "bottom", "values": [1e-5,2e-5,3e-5,4e-5,5e-5,6e-5,7e-5,8e-5,9e-5,1e-4,2e-4,3e-4,4e-4,5e-4,6e-4,7e-4,8e-4,9e-4,1e-3,2e-3,3e-3,4e-3,5e-3,6e-3,7e-3,8e-3,9e-3,0.01,0.02,0.03,0.04,0.05,0.06,0.07,0.08,0.09,0.1,0.2,0.3,0.4,0.5,0.6,0.7,0.8,0.9,1],
                "labelExpr": "abs(log(datum.value)/LN10 - round(log(datum.value)/LN10)) > 0.001 ? '' : (datum.value < 0.005 ? '1E' + round(log(datum.value) / LN10) : datum.value + '')",
                "tickSize": {"condition": {"test": "abs(log(datum.value)/LN10 - round(log(datum.value)/LN10)) < 0.001", "value": 5}, "value": 3},
                "tickWidth": 1, "domainWidth": 1.5, "labelFontSize": 10, "labelPadding": 4, "title": "Time (s)", "titleFontSize": 12, "titlePadding": 9}},
            "y": {"field": "v", "type": "quantitative", "scale": {"domain": [0.9905, 1.2], "nice": false, "zero": false},
              "axis": {"orient": "left", "values": [1.0, 1.05, 1.1, 1.15, 1.2],
                "labelExpr": "abs(datum.value*10 - round(datum.value*10)) > 0.001 ? '' : format(datum.value, '.1f')",
                "tickSize": {"condition": {"test": "abs(datum.value*10 - round(datum.value*10)) < 0.001", "value": 5}, "value": 3},
                "tickWidth": 1, "domainWidth": 1.5, "labelFontSize": 10, "labelPadding": 2, "title": "ACF", "titleFontSize": 12, "titlePadding": 18, "titleY": 65}},
            "color": {"field": "s", "type": "nominal", "legend": null,
              "scale": {"domain": ["a","b","c","d","e","f","g","h","i","j","k","l","m","n","o","p"], "range": ["#000000","#ff0000","#00b000","#0000ff","#00c0c0","#ff00ff","#c8c020","#000080","#800000","#008000","#008080","#505060","#ff0080","#4090c0","#800080","#ff8000"]}}
          }
        },
        {
          "data": {"values": [{"t": 1.645e-5, "v": 1.1942, "label": "Calibrated ACF\nCy3B 5nM\nSucrose 40% w/w"}]},
          "mark": {"type": "text", "align": "left", "baseline": "middle", "fontSize": 12, "lineHeight": 15, "lineBreak": "\n", "color": "#222222", "font": "Liberation Sans"},
          "encoding": {
            "x": {"field": "t", "type": "quantitative"},
            "y": {"field": "v", "type": "quantitative"},
            "text": {"field": "label"}
          }
        }
      ]
    }
  ]
}
